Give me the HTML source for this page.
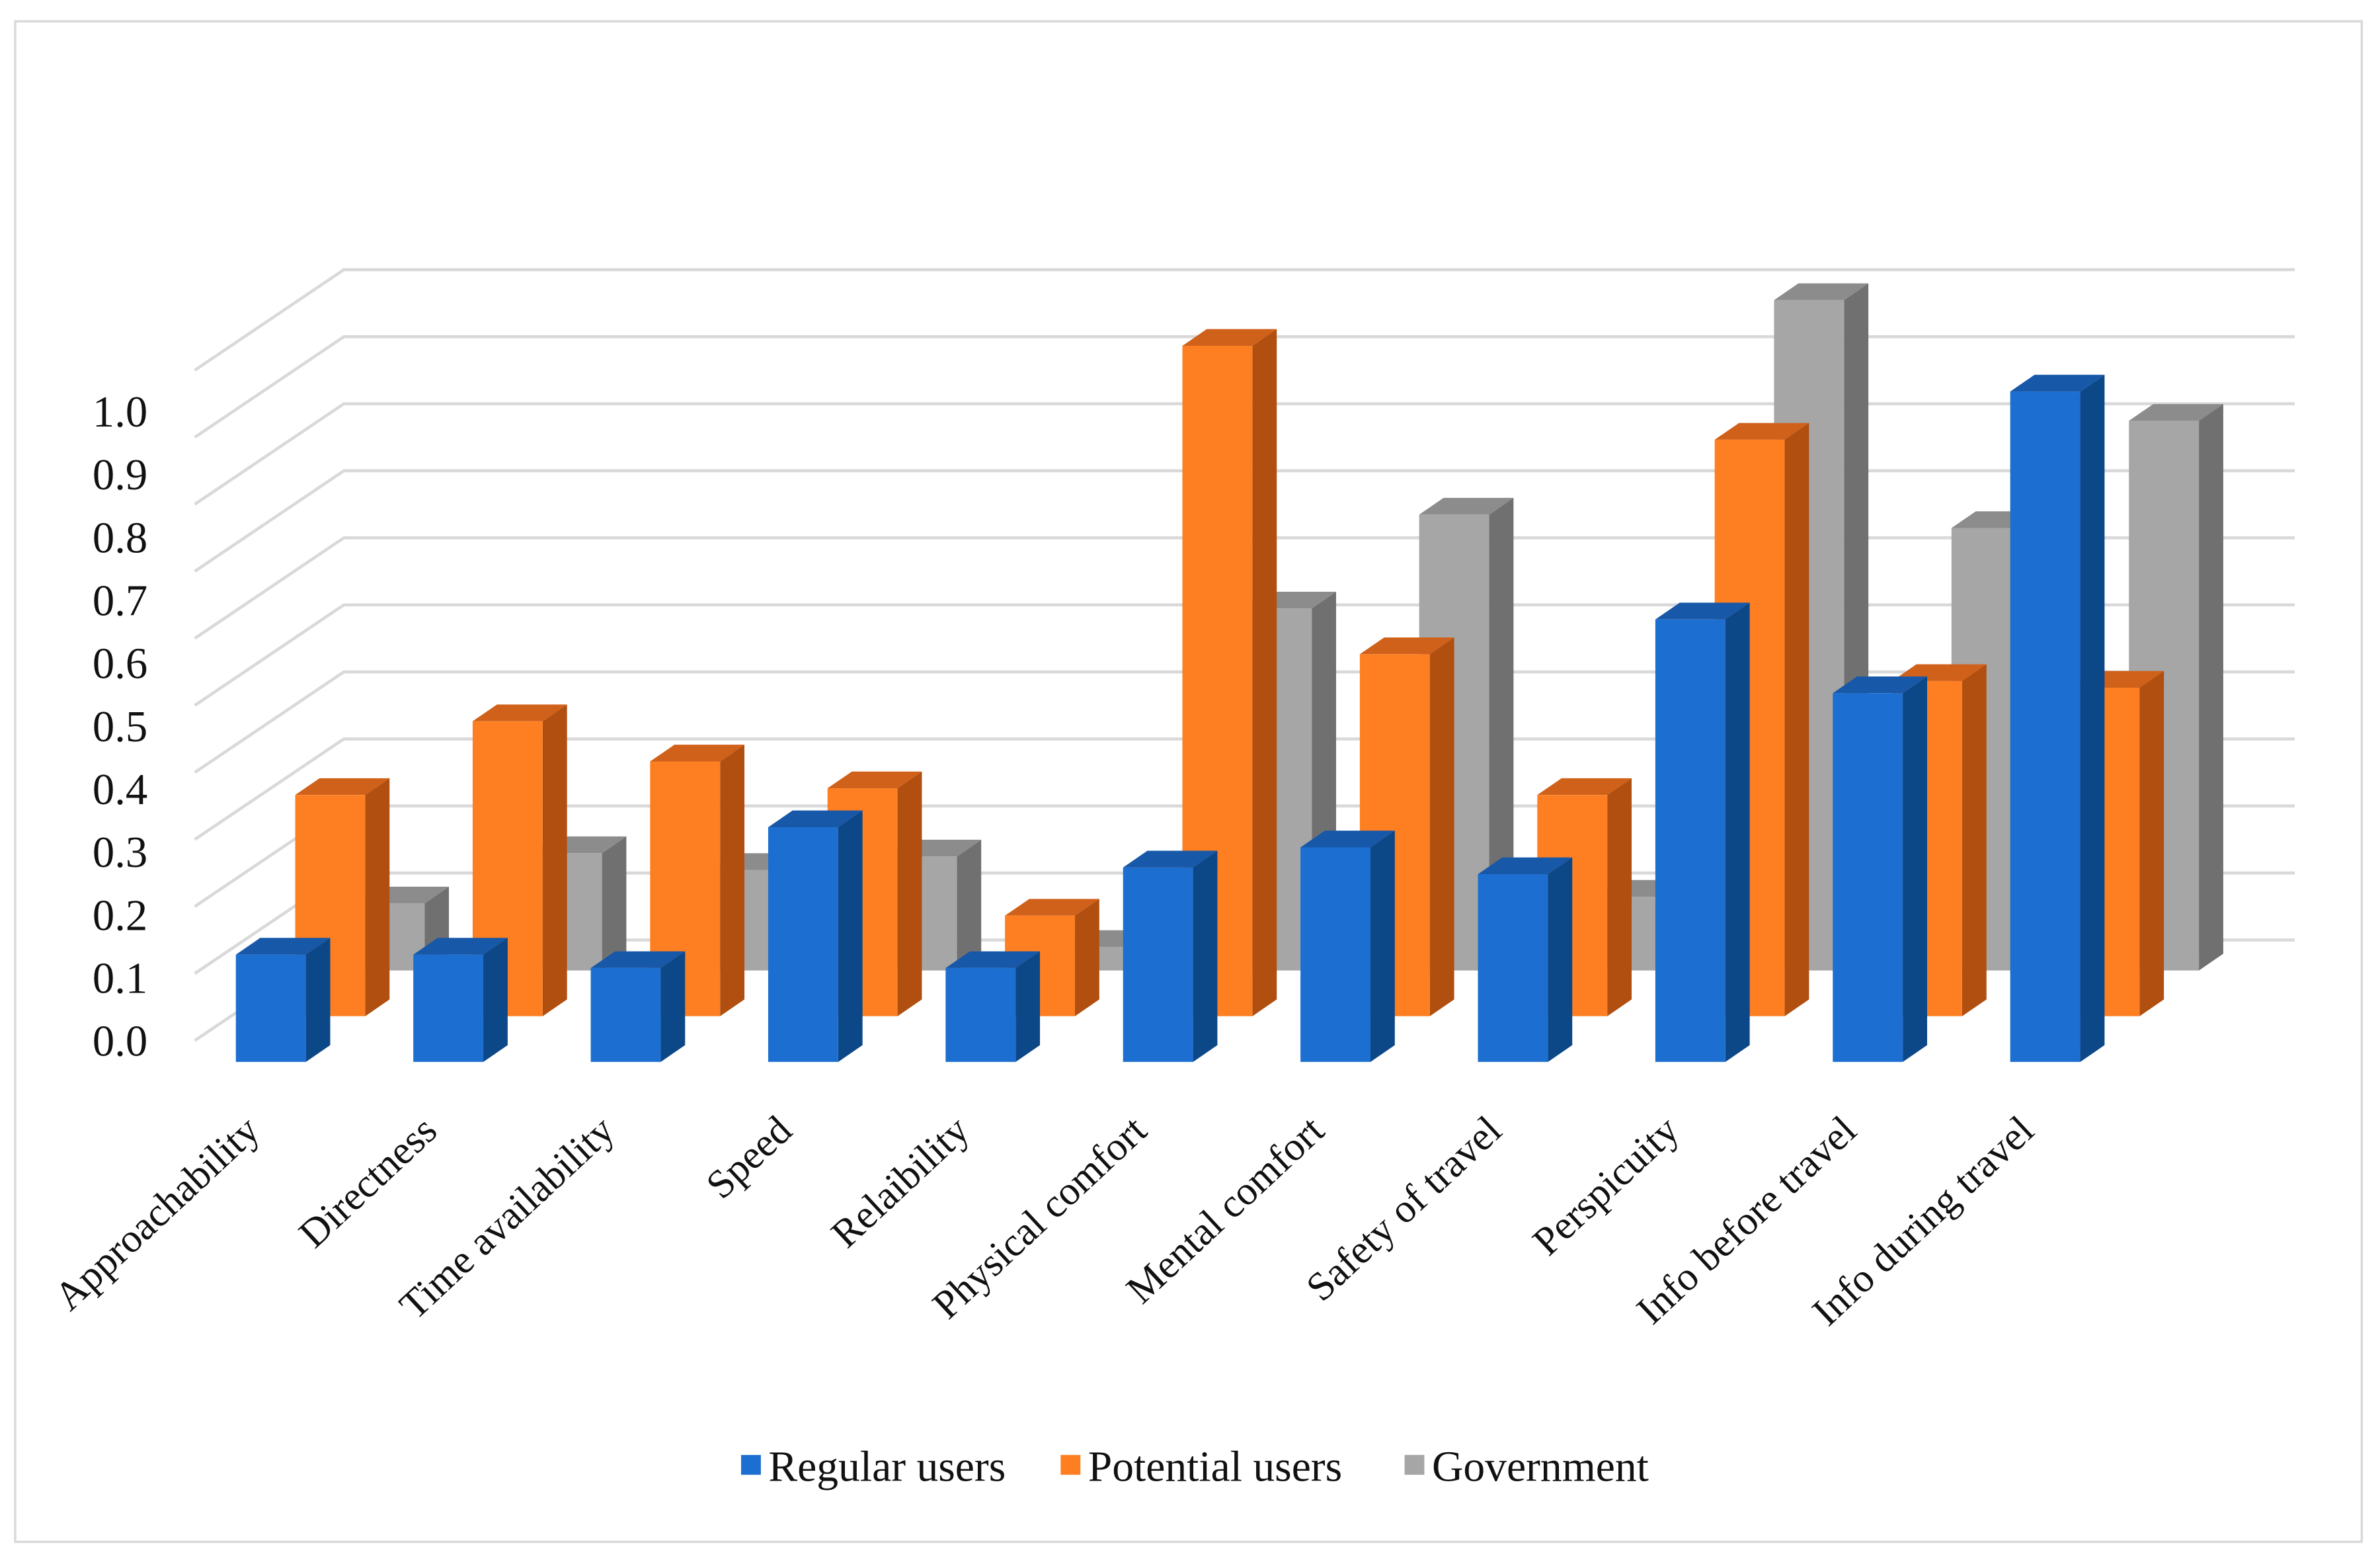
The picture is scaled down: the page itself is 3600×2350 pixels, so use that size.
<!DOCTYPE html>
<html><head><meta charset="utf-8"><style>
html,body{margin:0;padding:0;background:#fff;}
svg{display:block;}
text{font-family:"Liberation Serif",serif;fill:#111;}
</style></head><body>
<svg id="chart" width="3600" height="2350" viewBox="0 0 1564 1020" preserveAspectRatio="none" xmlns="http://www.w3.org/2000/svg">
<rect x="10" y="14" width="1542" height="998" fill="#fff" stroke="#d9d9d9" stroke-width="1.5"/>
<g id="grid"></g>
<g id="yaxis"></g>
<g id="bars"></g>
<g id="xaxis"></g>
<g>
 <g><rect x="487" y="955" width="13" height="13" fill="#1c6fd0"/><text x="505" y="972" font-size="28.5">Regular users</text></g>
 <g><rect x="697" y="955" width="13" height="13" fill="#fd7f22"/><text x="715" y="972" font-size="28.5">Potential users</text></g>
 <g><rect x="923" y="955" width="13" height="13" fill="#a6a6a6"/><text x="941" y="972" font-size="28.5">Government</text></g>
</g>
</svg>
<script>
const categories = ["Approachability","Directness","Time availability","Speed","Relaibility","Physical comfort","Mental comfort","Safety of travel","Perspicuity","Info before travel","Info during travel"];
const regularUsers = [0.16,0.16,0.14,0.35,0.14,0.29,0.32,0.28,0.66,0.55,1.0];
const potentialUsers = [0.33,0.44,0.38,0.34,0.15,1.0,0.54,0.33,0.86,0.50,0.49];
const government = [0.10,0.175,0.15,0.17,0.035,0.54,0.68,0.11,1.0,0.66,0.82];
const yTicks = ["0.0","0.1","0.2","0.3","0.4","0.5","0.6","0.7","0.8","0.9","1.0"];

const NS = "http://www.w3.org/2000/svg";
const x0 = 155, step = 116.6, bw = 46, dx = 16, dy = 11, base0 = 697, sdx = 39, sdy = 30, unit = 440;
function xCat(i, s){ return x0 + i*step + s*sdx; }
function yBase(s){ return base0 - s*sdy; }
function yVal(v, s){ return yBase(s) - v*unit; }
function mk(tag, attrs, parent){ const e=document.createElementNS(NS,tag); for(const k in attrs) e.setAttribute(k,attrs[k]); parent.appendChild(e); return e; }

const grid = document.getElementById('grid');
for(let k=0;k<=10;k++){
  const y = 617 - k*44;
  const p = mk('polyline',{points:`128,${y+66} 226,${y} 1508,${y}`,fill:'none',stroke:'#d9d9d9','stroke-width':2},grid);
  
  
}
const yaxis = document.getElementById('yaxis');
yTicks.forEach((t,i)=>{
  const e = mk('text',{x:97,y:683-41.3*i+10,'font-size':29,'text-anchor':'end'},yaxis);
  e.textContent=t;
  
  
});

const series = [
  {vals:government, front:'#a6a6a6', side:'#707070', top:'#8c8c8c', name:'government'},
  {vals:potentialUsers, front:'#fd7f22', side:'#b04f10', top:'#d0611a', name:'potential-users'},
  {vals:regularUsers, front:'#1c6fd0', side:'#0c4788', top:'#1858a8', name:'regular-users'}
];
const bars = document.getElementById('bars');
series.forEach((sr,j)=>{
  const s = 2 - j;
  sr.vals.forEach((v,i)=>{
    const x = xCat(i,s), yb = yBase(s), yt = yVal(v,s);
    const g = mk('g',{},bars);
    
    
    mk('polygon',{points:`${x+bw},${yb} ${x+bw+dx},${yb-dy} ${x+bw+dx},${yt-dy} ${x+bw},${yt}`,fill:sr.side},g);
    mk('polygon',{points:`${x},${yt} ${x+dx},${yt-dy} ${x+bw+dx},${yt-dy} ${x+bw},${yt}`,fill:sr.top},g);
    mk('rect',{x:x,y:yt,width:bw,height:yb-yt,fill:sr.front},g);
  });
});
const xaxis = document.getElementById('xaxis');
categories.forEach((c,i)=>{
  const ax = xCat(i,0)+bw/2-6, ay = 744;
  const e = mk('text',{x:ax,y:ay,'font-size':26.5,'text-anchor':'end',transform:`rotate(-43 ${ax} ${ay})`},xaxis);
  e.textContent=c;
  
  
});
</script>
</body></html>
